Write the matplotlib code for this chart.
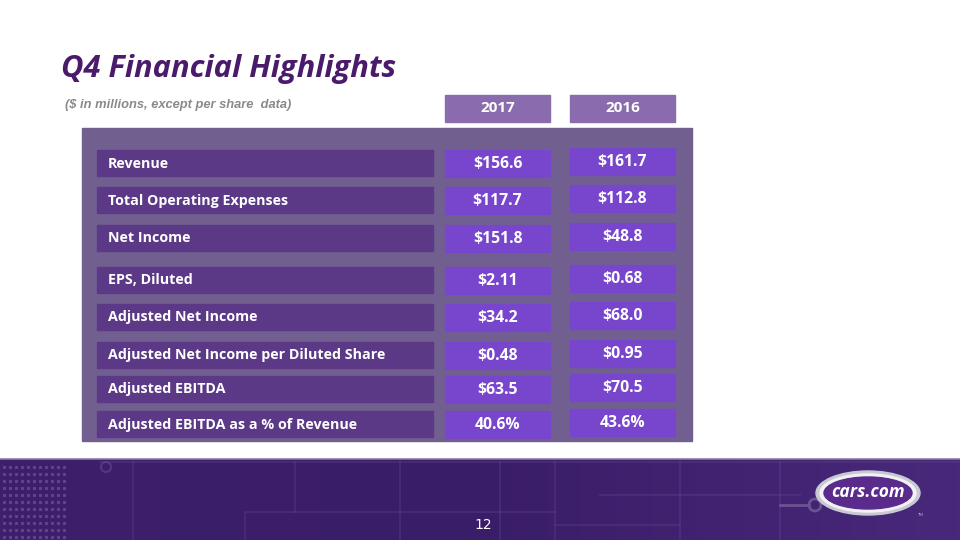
import numpy as np
import matplotlib.pyplot as plt
from matplotlib.patches import Rectangle, Ellipse
from matplotlib.colors import LinearSegmentedColormap

# table content
labels = ["Revenue", "Total Operating Expenses", "Net Income", "EPS, Diluted",
          "Adjusted Net Income", "Adjusted Net Income per Diluted Share",
          "Adjusted EBITDA", "Adjusted EBITDA as a % of Revenue"]
years = ["2017", "2016"]
values_2017 = ["$156.6", "$117.7", "$151.8", "$2.11", "$34.2", "$0.48", "$63.5", "40.6%"]
values_2016 = ["$161.7", "$112.8", "$48.8", "$0.68", "$68.0", "$0.95", "$70.5", "43.6%"]

# layout (pixels, top-left origin)
row_top = [150, 187, 225, 267, 304, 342, 376, 411]
row_h = 26
label_x0, label_x1 = 97, 433
col_x = [445, 570]
col_w = 105
col_shift = [0, -2]

plt.rcParams['font.family'] = ['Open Sans', 'DejaVu Sans']

fig = plt.figure(figsize=(9.6, 5.4), dpi=100)
ax = fig.add_axes([0, 0, 1, 1])
ax.set_xlim(0, 960)
ax.set_ylim(540, 0)
ax.axis('off')

# title
ax.text(61, 69, "Q4 Financial Highlights", fontsize=22.2, fontweight='bold',
        fontstyle='italic', color='#4a1a6b', va='center', ha='left')
ax.text(65, 105, "($ in millions, except per share  data)", fontsize=9.3,
        fontweight='bold', fontstyle='italic', color='#8a8a8a', va='center',
        family=['Liberation Sans', 'DejaVu Sans'])

# panel
ax.add_patch(Rectangle((82, 128), 610, 313, color='#715f90', zorder=1))

# year headers
for x, yr in zip(col_x, years):
    ax.add_patch(Rectangle((x, 95), col_w, 27, color='#8a6cae', zorder=2))
    ax.text(x + col_w / 2, 108.5, yr, color='white', fontsize=11,
            fontweight='bold', ha='center', va='center', zorder=3)

# rows
for i, lab in enumerate(labels):
    y = row_top[i]
    ax.add_patch(Rectangle((label_x0, y), label_x1 - label_x0, row_h,
                           color='#5b3986', zorder=2))
    ax.text(label_x0 + 11, y + row_h / 2 + 0.5, lab, color='white', fontsize=10.3,
            fontweight='bold', ha='left', va='center', zorder=3)
    for j, vals in enumerate([values_2017, values_2016]):
        yy = y + col_shift[j]
        ax.add_patch(Rectangle((col_x[j], yy), col_w, row_h + 1,
                               color='#7846cc', zorder=2))
        ax.text(col_x[j] + col_w / 2, yy + row_h / 2 + 1, vals[i],
                color='white', fontsize=11.3, fontweight='bold',
                ha='center', va='center', zorder=3)

# bottom banner with gradient
grad = np.linspace(0, 1, 256).reshape(1, -1)
cmap = LinearSegmentedColormap.from_list('b', ['#3d1f6c', '#3a1d68', '#48287a'])
ax.imshow(grad, extent=(0, 960, 540, 459), cmap=cmap, aspect='auto', zorder=1)
ax.plot([0, 960], [459, 459], color='#8c7aa8', lw=1.2, zorder=2)

# faint circuit lines
lc = dict(color='#6a539240', lw=1.5, zorder=2)
ax.plot([100, 960], [462, 462], **lc)
ax.plot([133, 133], [462, 540], **lc)
ax.plot([245, 245, 295, 295], [540, 512, 512, 462], **lc)
ax.plot([295, 555], [512, 512], **lc)
ax.plot([400, 400], [462, 540], **lc)
ax.plot([500, 500], [462, 540], **lc)
ax.plot([555, 555], [462, 540], **lc)
ax.plot([680, 680], [462, 540], **lc)
ax.plot([555, 680], [525, 525], **lc)
ax.plot([780, 780], [462, 540], **lc)
ax.plot([600, 800], [495, 495], **lc)
ax.add_patch(Ellipse((106, 467), 10, 10, fill=False, ec='#6a539280', lw=1.5, zorder=2))
ax.add_patch(Ellipse((815, 505), 12, 12, fill=False, ec='#6a5392', lw=2, zorder=2))
ax.plot([780, 809], [505, 505], color='#6a5392', lw=2, zorder=2)
# dot pattern
for yy in np.arange(467, 540, 7):
    for xx in np.arange(4, 70, 6):
        ax.plot(xx, yy, 's', ms=1.3, color='#5d4588', zorder=2)

ax.text(483, 525, "12", color='white', fontsize=10, ha='center', va='center',
        family=['Liberation Sans Narrow', 'DejaVu Sans'], zorder=3)

# logo
ax.add_patch(Ellipse((868, 493), 104, 44, color='#c9c9d4', zorder=3))
ax.add_patch(Ellipse((868, 493), 96, 38, color='#f2f2f6', zorder=3))
ax.add_patch(Ellipse((868, 493), 88, 32, color='#5a2a8c', zorder=4))
ax.text(868, 492, "cars.com", color='white', fontsize=12.5, fontweight='bold',
        fontstyle='italic', ha='center', va='center', zorder=5)
ax.text(918, 516, "TM", color='#cccccc', fontsize=3, zorder=5)

fig.savefig("out.png", dpi=100)
